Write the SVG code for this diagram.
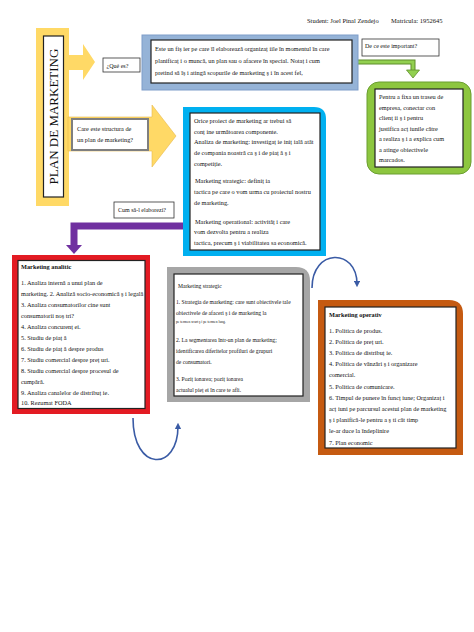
<svg xmlns="http://www.w3.org/2000/svg" width="474" height="632" viewBox="0 0 474 632">
<style>
text{font-family:"Liberation Serif","Times New Roman",serif;fill:#111}
.t{font-size:6.3px}
.g{font-size:5.6px}
.b{font-weight:bold}
.inner{fill:#fff;stroke:#222;stroke-width:1.2}
.lbl{fill:#fff;stroke:#333;stroke-width:0.8}
</style>
<defs>
<marker id="ab" viewBox="0 0 10 10" refX="5" refY="5" markerWidth="4" markerHeight="4" orient="auto"><path d="M0,0 L10,5 L0,10 z" fill="#3A5BA5"/></marker>
</defs>
<rect width="474" height="632" fill="#fff"/>
<g id="header">
<text x="307" y="23" style="font-size:6.5px">Student: Joel Pinal Zendejo</text>
<text x="391" y="23" style="font-size:6.5px">Matricula: 1952645</text>
</g>
<g id="title">
<rect x="36" y="28" width="33" height="178" fill="#FFD966"/>
<rect x="43.5" y="36" width="20" height="161" fill="#fff" stroke="#222" stroke-width="1.2"/>
<text transform="translate(58,116.5) rotate(-90)" text-anchor="middle" style="font-size:13px">PLAN DE MARKETING</text>
</g>
<g id="connectors">
<polygon points="68,55 83,55 83,44 95,62 83,80 83,70 68,70" fill="#FFD966"/>
<polygon points="68,117 152,117 152,105 176,136 152,167 152,151 68,151" fill="#FFD966" stroke="#E8B84A" stroke-width="0.6"/>
<path d="M358,62 H413 V71" fill="none" stroke="#5E8E2A" stroke-width="5"/>
<path d="M358,62 H413 V71" fill="none" stroke="#92D050" stroke-width="3"/>
<polygon points="406.5,70 419.5,70 413,78" fill="#92D050" stroke="#5E8E2A" stroke-width="0.8"/>
<path d="M183,226 H74 V246" fill="none" stroke="#7030A0" stroke-width="7"/>
<polygon points="66,245 82,245 74,254" fill="#7030A0"/>
<path d="M133,418 C133,472 178,472 178,426" fill="none" stroke="#3A5BA5" stroke-width="1.6" marker-end="url(#ab)"/>
<path d="M312,288 C312,248 357,248 357,284" fill="none" stroke="#3A5BA5" stroke-width="1.6" marker-end="url(#ab)"/>
</g>
<g id="que-es">
<rect class="lbl" x="103" y="58" width="37" height="14"/>
<text x="106.5" y="67.5" style="font-size:6px">¿Qué es?</text>
</g>
<g id="definitie">
<rect x="142" y="35" width="216" height="55" fill="#95B3D7" stroke="#7F9DC9" stroke-width="1"/>
<rect class="inner" x="151" y="40" width="201" height="43"/>
<text class="t" x="155" y="51">Este un fiș ier pe care îl elaborează organizaț iile în momentul în care</text>
<text class="t" x="155" y="63">planificaț i o muncă, un plan sau o afacere în special. Notaț i cum</text>
<text class="t" x="155" y="75">pretind să îș i atingă scopurile de marketing ş i în acest fel,</text>
</g>
<g id="important">
<rect class="lbl" x="362" y="39" width="77" height="17"/>
<text x="365" y="48" style="font-size:6px">De ce este important?</text>
</g>
<g id="importanta">
<rect x="367" y="82" width="104" height="92" rx="12" fill="#8DC63F" stroke="#6A9E30" stroke-width="1"/>
<rect class="inner" x="375" y="89" width="88" height="78"/>
<text class="t" x="379" y="99">Pentru a fixa un traseu de</text>
<text class="t" x="379" y="109.5">empresa, conectar con</text>
<text class="t" x="379" y="120">clienț ii ş i pentru</text>
<text class="t" x="379" y="130.5">justifica acț iunile către</text>
<text class="t" x="379" y="141">a realiza ş i a explica cum</text>
<text class="t" x="379" y="151.5">a atinge obiectivele</text>
<text class="t" x="379" y="162">marcados.</text>
</g>
<g id="structura">
<rect x="72" y="119" width="76" height="31" fill="#fff" stroke="#7F7F7F" stroke-width="2"/>
<text class="t" x="77" y="131">Care este structura de</text>
<text class="t" x="77" y="142">un plan de marketing?</text>
</g>
<g id="componente">
<path d="M183,107 H314 Q326,107 326,119 V256 H183 Z" fill="#00B0F0"/>
<rect class="inner" x="190" y="113" width="130" height="137"/>
<text class="t" x="194" y="123">Orice proiect de marketing ar trebui să</text>
<text class="t" x="194" y="134">conț ine următoarea componente.</text>
<text class="t" x="194" y="144">Analiza de marketing: investigaț ie iniț ială atât</text>
<text class="t" x="194" y="155">de compania noastră ca ş i de piaț ă ş i</text>
<text class="t" x="194" y="166">competiție.</text>
<text class="t" x="195" y="183">Marketing strategic: definiț ia</text>
<text class="t" x="194" y="194">tactica pe care o vom urma cu proiectul nostru</text>
<text class="t" x="194" y="205">de marketing.</text>
<text class="t" x="195" y="224">Marketing operational: activităț i care</text>
<text class="t" x="194" y="234">vom dezvolta pentru a realiza</text>
<text class="t" x="194" y="245">tactica, precum ş i viabilitatea sa economică.</text>
</g>
<g id="elaborare">
<rect class="lbl" x="114" y="202" width="60" height="16"/>
<text x="118" y="212" style="font-size:6px">Cum să-l elaborezi?</text>
</g>
<g id="analitic">
<rect x="12" y="255" width="138" height="159" fill="#E31B23"/>
<rect class="inner" x="18" y="260.5" width="127" height="148"/>
<text class="t b" x="21" y="268.5">Marketing analitic</text>
<text class="t" x="21" y="285">1. Analiza internă a unui plan de</text>
<text class="t" x="21" y="296">marketing. 2. Analiză socio-economică ş i legală</text>
<text class="t" x="21" y="307">3. Analiza consumatorilor cine sunt</text>
<text class="t" x="21" y="318">consumatorii noș tri?</text>
<text class="t" x="21" y="329">4. Analiza concurenț ei.</text>
<text class="t" x="21" y="340">5. Studiu de piaț ă</text>
<text class="t" x="21" y="351">6. Studiu de piaț ă despre produs</text>
<text class="t" x="21" y="362">7. Studiu comercial despre preț uri.</text>
<text class="t" x="21" y="373">8. Studiu comercial despre procesul de</text>
<text class="t" x="21" y="384">cumpără.</text>
<text class="t" x="21" y="395">9. Analiza canalelor de distribuț ie.</text>
<text class="t" x="21" y="405">10. Rezumat FODA</text>
</g>
<g id="strategic">
<path d="M167,267 H296 Q310,267 310,281 V402 H167 Z" fill="#A6A6A6"/>
<rect class="inner" x="174" y="274" width="129" height="122"/>
<text class="g" x="178" y="288">Marketing strategic</text>
<text class="g" x="176" y="304">1. Strategia de marketing: care sunt obiectivele tale</text>
<text class="g" x="176" y="315">obiectivele de afaceri ş i de marketing la</text>
<text x="176" y="322.5" style="font-size:3.6px">pe termen scurt ş i pe termen lung.</text>
<text class="g" x="176" y="342">2. La segmentarea într-un plan de marketing;</text>
<text class="g" x="176" y="353">identificarea diferitelor profiluri de grupuri</text>
<text class="g" x="176" y="364">de consumatori.</text>
<text class="g" x="176" y="381">3. Poziț ionarea; poziț ionarea</text>
<text class="g" x="176" y="392">actualul pieț ei în care te afli.</text>
</g>
<g id="operativ">
<path d="M318,300 H449 Q463,300 463,314 V455 H318 Z" fill="#C55A11"/>
<rect class="inner" x="325" y="307" width="131" height="141"/>
<text class="t b" x="329" y="317">Marketing operativ</text>
<text class="t" x="329" y="333">1. Politica de produs.</text>
<text class="t" x="329" y="344">2. Politica de preț uri.</text>
<text class="t" x="329" y="355">3. Politica de distribuț ie.</text>
<text class="t" x="329" y="366">4. Politica de vânzări ş i organizare</text>
<text class="t" x="329" y="377">comercial.</text>
<text class="t" x="329" y="389">5. Politica de comunicare.</text>
<text class="t" x="329" y="400">6. Timpul de punere în funcț iune; Organizaț i</text>
<text class="t" x="329" y="411">acț iuni pe parcursul acestui plan de marketing</text>
<text class="t" x="329" y="422">ş i planifică-le pentru a ş ti cât timp</text>
<text class="t" x="329" y="433">le-ar duce la îndeplinire</text>
<text class="t" x="329" y="445">7. Plan economic</text>
</g>
</svg>
